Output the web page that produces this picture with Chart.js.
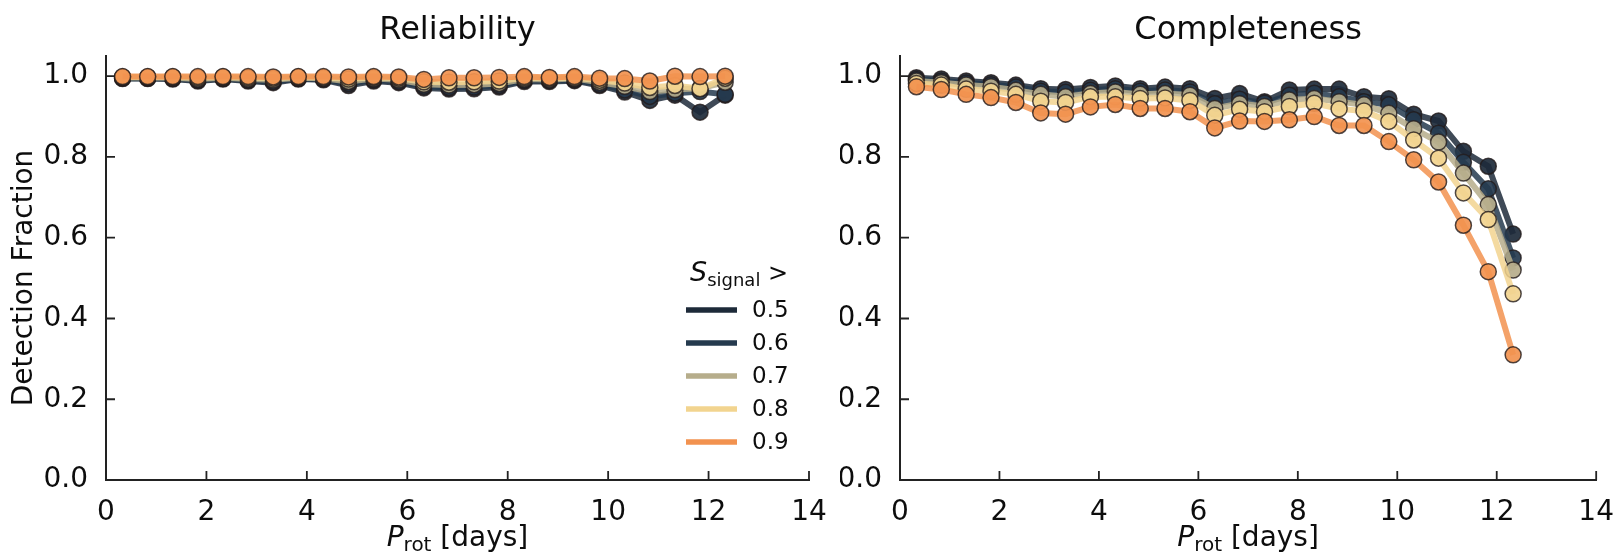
<!DOCTYPE html>
<html>
<head>
<meta charset="utf-8">
<script src="https://cdn.jsdelivr.net/npm/chart.js@4.4.1/dist/chart.umd.min.js"></script>
<style>
  html, body { margin: 0; padding: 0; background: #fff; }
  #wrap { position: relative; width: 1622px; height: 554px; }
  canvas { position: absolute; top: 0; }
</style>
</head>
<body>
<div id="wrap">
  <canvas id="relChart" width="840" height="554" style="left:0"></canvas>
  <canvas id="compChart" width="782" height="554" style="left:840px"></canvas>
</div>
<script>
// rotation period bins (days)
const periods = [0.33, 0.83, 1.33, 1.83, 2.33, 2.83, 3.33, 3.83, 4.33, 4.83, 5.33, 5.83, 6.33,
  6.83, 7.33, 7.83, 8.33, 8.83, 9.33, 9.83, 10.33, 10.83, 11.33, 11.83, 12.33];
const thresholds = ['0.5', '0.6', '0.7', '0.8', '0.9'];
const xTicks = [0, 2, 4, 6, 8, 10, 12, 14];
const yTicks = [0.0, 0.2, 0.4, 0.6, 0.8, 1.0];

// reliability per S_signal threshold
const rel05 = [0.994, 0.994, 0.993, 0.988, 0.993, 0.988, 0.984, 0.993, 0.991, 0.977, 0.988, 0.984, 0.971,
  0.968, 0.969, 0.973, 0.987, 0.987, 0.989, 0.977, 0.961, 0.940, 0.953, 0.911, 0.953];
const rel06 = [0.995, 0.995, 0.994, 0.990, 0.994, 0.990, 0.987, 0.994, 0.993, 0.982, 0.991, 0.987, 0.975,
  0.972, 0.973, 0.977, 0.990, 0.989, 0.991, 0.980, 0.966, 0.950, 0.958, 0.962, 0.955];
const rel07 = [0.997, 0.997, 0.996, 0.993, 0.996, 0.993, 0.991, 0.996, 0.995, 0.987, 0.994, 0.991, 0.980,
  0.978, 0.979, 0.982, 0.993, 0.992, 0.994, 0.985, 0.975, 0.962, 0.967, 0.970, 0.985];
const rel08 = [0.998, 0.998, 0.998, 0.996, 0.998, 0.996, 0.995, 0.998, 0.997, 0.993, 0.997, 0.995, 0.986,
  0.985, 0.986, 0.988, 0.996, 0.995, 0.996, 0.990, 0.983, 0.972, 0.977, 0.969, 0.995];
const rel09 = [0.999, 0.999, 0.999, 0.999, 0.999, 0.999, 0.998, 0.999, 0.999, 0.998, 0.999, 0.998, 0.992,
  0.996, 0.996, 0.997, 0.999, 0.997, 0.999, 0.995, 0.994, 0.988, 1.000, 0.999, 1.000];

// completeness per S_signal threshold
const comp05 = [0.996, 0.993, 0.988, 0.984, 0.978, 0.969, 0.967, 0.972, 0.976, 0.969, 0.973, 0.969, 0.945,
  0.957, 0.937, 0.966, 0.968, 0.968, 0.949, 0.944, 0.906, 0.889, 0.814, 0.777, 0.609];
const comp06 = [0.992, 0.988, 0.983, 0.979, 0.973, 0.963, 0.960, 0.965, 0.969, 0.963, 0.966, 0.961, 0.932,
  0.943, 0.933, 0.953, 0.958, 0.949, 0.937, 0.929, 0.892, 0.859, 0.787, 0.721, 0.550];
const comp07 = [0.988, 0.984, 0.978, 0.974, 0.965, 0.955, 0.949, 0.957, 0.961, 0.955, 0.957, 0.953, 0.920,
  0.932, 0.925, 0.941, 0.945, 0.937, 0.929, 0.908, 0.870, 0.837, 0.760, 0.682, 0.520];
const comp08 = [0.982, 0.978, 0.968, 0.963, 0.955, 0.938, 0.935, 0.949, 0.949, 0.945, 0.946, 0.940, 0.903,
  0.918, 0.912, 0.925, 0.933, 0.919, 0.914, 0.888, 0.842, 0.797, 0.711, 0.645, 0.461];
const comp09 = [0.974, 0.967, 0.955, 0.947, 0.935, 0.909, 0.906, 0.924, 0.930, 0.920, 0.920, 0.912, 0.872,
  0.889, 0.888, 0.892, 0.900, 0.878, 0.878, 0.838, 0.793, 0.738, 0.631, 0.516, 0.310];

const seriesColors = ['#1d2a39', '#253a4e', '#b6ad8b', '#f2d48f', '#f2924f'];
const FONT = '"DejaVu Sans", sans-serif';
const INK = '#0d0d0d';

function rgba(hex, a) {
  const n = parseInt(hex.slice(1), 16);
  return `rgba(${n >> 16},${(n >> 8) & 255},${n & 255},${a})`;
}

function makeDatasets(list) {
  return list.map((vals, i) => ({
    label: thresholds[i],
    data: periods.map((p, k) => ({ x: p, y: vals[k] })),
    borderColor: rgba(seriesColors[i], 0.85),
    backgroundColor: rgba(seriesColors[i], 0.92),
    pointBorderColor: 'rgba(35,28,28,0.8)',
    pointBorderWidth: 1.5,
    pointRadius: 8,
    borderWidth: 6,
    order: list.length - 1 - i,
    tension: 0
  }));
}

// draws a run of text parts (italic / subscript) starting at x
function drawRich(ctx, parts, x, y, align) {
  let total = 0;
  parts.forEach(p => {
    ctx.font = `${p.italic ? 'italic ' : ''}${p.size}px ${FONT}`;
    p.w = ctx.measureText(p.t).width;
    total += p.w;
  });
  let cx = align === 'center' ? x - total / 2 : x;
  ctx.textAlign = 'left';
  ctx.textBaseline = 'alphabetic';
  parts.forEach(p => {
    ctx.font = `${p.italic ? 'italic ' : ''}${p.size}px ${FONT}`;
    ctx.fillText(p.t, cx, y + (p.dy || 0));
    cx += p.w;
  });
}

function decorPlugin(title, opts) {
  return {
    id: 'decor',
    afterDraw(chart) {
      const { ctx, chartArea: a, scales: { x, y } } = chart;
      ctx.save();
      // inward tick marks
      ctx.strokeStyle = '#222';
      ctx.lineWidth = 1.8;
      ctx.beginPath();
      x.ticks.forEach(t => {
        const px = x.getPixelForValue(t.value);
        ctx.moveTo(px, a.bottom);
        ctx.lineTo(px, a.bottom - 9);
      });
      y.ticks.forEach(t => {
        const py = y.getPixelForValue(t.value);
        ctx.moveTo(a.left, py);
        ctx.lineTo(a.left + 9, py);
      });
      ctx.stroke();

      ctx.fillStyle = INK;
      ctx.font = `32px ${FONT}`;
      ctx.textAlign = 'center';
      ctx.textBaseline = 'alphabetic';
      ctx.fillText(title, (a.left + a.right) / 2, 39);

      drawRich(ctx, [
        { t: 'P', size: 28, italic: true },
        { t: 'rot', size: 20, dy: 5 },
        { t: ' [days]', size: 28 }
      ], (a.left + a.right) / 2, 546, 'center');

      if (opts.yTitle) {
        ctx.save();
        ctx.translate(25, (a.top + a.bottom) / 2 + 10);
        ctx.rotate(-Math.PI / 2);
        ctx.font = `28px ${FONT}`;
        ctx.textAlign = 'center';
        ctx.textBaseline = 'middle';
        ctx.fillText('Detection Fraction', 0, 0);
        ctx.restore();
      }

      if (opts.legend) {
        const lx = a.right - 123;
        const top = a.bottom - 170;
        drawRich(ctx, [
          { t: 'S', size: 27, italic: true },
          { t: 'signal', size: 18, dy: 5 },
          { t: ' >', size: 24 }
        ], lx + 4, top - 29, 'left');
        chart.data.datasets.forEach((ds, i) => {
          const ly = top + i * 33;
          ctx.strokeStyle = seriesColors[i];
          ctx.lineWidth = 5.5;
          ctx.beginPath();
          ctx.moveTo(lx, ly);
          ctx.lineTo(lx + 51, ly);
          ctx.stroke();
          ctx.fillStyle = INK;
          ctx.font = `23px ${FONT}`;
          ctx.textAlign = 'left';
          ctx.textBaseline = 'middle';
          ctx.fillText(ds.label, lx + 66, ly + 1);
        });
      }
      ctx.restore();
    }
  };
}

function makeChart(id, sets, title, pad, yWidth, opts) {
  return new Chart(document.getElementById(id), {
    type: 'line',
    data: { datasets: makeDatasets(sets) },
    options: {
      responsive: false,
      animation: false,
      layout: { padding: pad },
      plugins: { legend: { display: false }, tooltip: { enabled: false } },
      scales: {
        x: {
          type: 'linear', min: 0, max: 14,
          afterBuildTicks: s => { s.ticks = xTicks.map(v => ({ value: v })); },
          ticks: { color: INK, font: { size: 28, family: FONT }, padding: 8, maxRotation: 0 },
          grid: { display: false },
          border: { display: true, color: '#222', width: 2 },
          afterFit: s => { s.height = 74; }
        },
        y: {
          type: 'linear', min: 0, max: 1.05,
          afterBuildTicks: s => { s.ticks = yTicks.map(v => ({ value: v })); },
          ticks: { color: INK, font: { size: 28, family: FONT }, padding: 10, callback: v => v.toFixed(1) },
          grid: { display: false },
          border: { display: true, color: '#222', width: 2 },
          afterFit: s => { s.width = yWidth; }
        }
      }
    },
    plugins: [decorPlugin(title, opts)]
  });
}

makeChart('relChart', [rel05, rel06, rel07, rel08, rel09], 'Reliability',
  { left: 0, right: 31, top: 56, bottom: 0 }, 106, { yTitle: true, legend: true });
makeChart('compChart', [comp05, comp06, comp07, comp08, comp09], 'Completeness',
  { left: 0, right: 19, top: 56, bottom: 0 }, 60, { yTitle: false, legend: false });
</script>
</body>
</html>
